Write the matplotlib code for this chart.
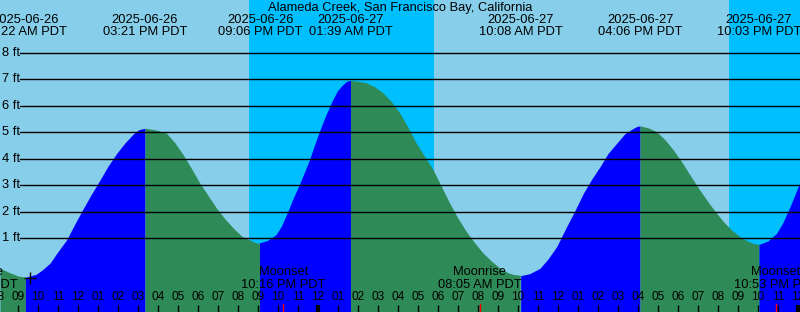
import numpy as np
import matplotlib
matplotlib.use("Agg")
import matplotlib.pyplot as plt
import matplotlib.transforms as mtransforms

plt.rcParams['font.family'] = ['Liberation Sans', 'DejaVu Sans']

# hours counted from 2025-06-26 00:00 PDT
title = "Alameda Creek, San Francisco Bay, California"

# tide height (ft)
curve_hours = [8.1, 8.6, 9.0,
               9.9, 10.2, 10.6, 11.0, 11.43, 11.85, 12.27, 12.7, 13.1, 13.5, 13.93,
               14.35, 14.77, 15.05,
               15.7, 16.0, 16.43, 16.85, 17.27, 17.7, 18.1, 18.5, 18.93, 19.35, 19.77,
               20.2, 20.6, 20.85,
               21.5, 21.93, 22.2, 22.52, 22.8, 23.1, 23.35, 23.6, 23.85, 24.1, 24.4,
               24.77, 25.0, 25.27, 25.45,
               26.0, 26.43, 26.85, 27.27, 27.7, 28.1, 28.5, 28.93, 29.35, 29.77, 30.2,
               30.6, 31.0, 31.43, 31.85, 32.27, 32.7, 33.1, 33.55, 33.85,
               34.6, 35.1, 35.5, 35.93, 36.43, 36.85, 37.27, 37.7, 38.1, 38.5, 38.93,
               39.35, 39.77, 39.95,
               40.5, 40.93, 41.35, 41.77, 42.2, 42.6, 43.0, 43.43, 43.85, 44.27, 44.7,
               45.1, 45.55, 45.8,
               46.5, 46.93, 47.25, 47.6, 47.85, 48.1]
curve_ft = [-0.13, -0.3, -0.42,
            -0.36, -0.2, 0.06, 0.5, 0.94, 1.55, 2.13, 2.7, 3.2, 3.72, 4.2,
            4.6, 4.94, 5.1,
            5.11, 5.07, 4.96, 4.6, 4.14, 3.6, 3.07, 2.62, 2.13, 1.73, 1.38,
            1.07, 0.94, 0.84,
            0.9, 1.12, 1.45, 2.0, 2.52, 3.02, 3.48, 3.95, 4.5, 5.02, 5.6,
            6.22, 6.55, 6.78, 6.9,
            6.91, 6.85, 6.7, 6.47, 6.13, 5.72, 5.2, 4.58, 4.08, 3.58, 2.93,
            2.32, 1.77, 1.25, 0.82, 0.43, 0.12, -0.13, -0.33, -0.39,
            -0.33, -0.13, 0.22, 0.68, 1.44, 2.05, 2.7, 3.25, 3.7, 4.2, 4.58,
            4.95, 5.15, 5.22,
            5.17, 5.02, 4.72, 4.33, 3.87, 3.39, 2.92, 2.45, 2.02, 1.63, 1.3,
            1.06, 0.87, 0.8,
            0.9, 1.19, 1.6, 2.19, 2.65, 3.13]

# high / low tides
extreme_hours = [9.367, 15.35, 21.1, 25.65, 34.133, 40.1, 46.05]
extreme_ft = [-0.47, 5.15, 0.81, 6.94, -0.41, 5.24, 0.77]
extreme_dates = ["2025-06-26", "2025-06-26", "2025-06-26", "2025-06-27",
                 "2025-06-27", "2025-06-27", "2025-06-27"]
extreme_times = ["09:22 AM PDT", "03:21 PM PDT", "09:06 PM PDT", "01:39 AM PDT",
                 "10:08 AM PDT", "04:06 PM PDT", "10:03 PM PDT"]

# night (sunset -> sunrise)
night_start = [20.55, 44.55]
night_end = [29.8, 49.0]

# moon events
moon_hours = [6.9, 22.27, 32.083, 46.883]
moon_names = ["Moonrise", "Moonset", "Moonrise", "Moonset"]
moon_times = ["06:54 AM PDT", "10:16 PM PDT", "08:05 AM PDT", "10:53 PM PDT"]

now_hour, now_ft = 9.6, -0.49

day_color = "#87CEEB"
night_color = "#00BFFF"
flood_color = "#0000FF"
ebb_color = "#2E8B57"
fs = 9.3

fig = plt.figure(figsize=(8, 3.12), dpi=100)
ax = fig.add_axes([0, 0, 1, 1])
ax.set_xlim(8.1, 48.1)
ax.set_ylim(-1.78, 9.99)
ax.axis("off")
ax.add_patch(plt.Rectangle((0, 0), 1, 1, transform=ax.transAxes,
                           color=day_color, zorder=0))
for s, e in zip(night_start, night_end):
    ax.axvspan(s, e, color=night_color, lw=0, zorder=0.5)

# merge curve and extremes
t = np.array(curve_hours + extreme_hours)
h = np.array(curve_ft + extreme_ft)
order = np.argsort(t)
t, h = t[order], h[order]

bounds = [t[0]] + extreme_hours + [t[-1]]
for i in range(len(bounds) - 1):
    a, b = bounds[i], bounds[i + 1]
    m = (t >= a) & (t <= b)
    seg_t, seg_h = t[m], h[m]
    rising = seg_h[-1] > seg_h[0]
    ax.fill_between(seg_t, seg_h, -5, color=flood_color if rising else ebb_color,
                    lw=0, zorder=1)

# grid lines
for ft in range(1, 9):
    ax.axhline(ft, xmin=20 / 800, xmax=1, color="black", lw=1, zorder=2)
    ax.text(8.2, ft, f"{ft} ft", fontsize=fs, va="center", ha="left", zorder=3)

tr = mtransforms.blended_transform_factory(ax.transData, ax.transAxes)

ax.text(0.5, 1 - 7.5 / 312, title, transform=ax.transAxes, ha="center",
        va="center", fontsize=fs)
for x, d, tm in zip(extreme_hours, extreme_dates, extreme_times):
    ax.text(x, 1 - 20 / 312, d, transform=tr, ha="center", va="center", fontsize=fs)
    ax.text(x, 1 - 32 / 312, tm, transform=tr, ha="center", va="center", fontsize=fs)

# hour ticks
for hr in range(8, 49):
    lab = (hr % 12) or 12
    lw = 3 if hr % 24 == 0 else 1
    ax.plot([hr, hr], [0, 7 / 312], transform=tr, color="black", lw=lw,
            solid_capstyle="butt", zorder=3)
    ax.text(hr, 1 - 297.3 / 312, f"{lab:02d}", transform=tr, ha="center",
            va="center", fontsize=8.5, zorder=3)

for x, n, tm in zip(moon_hours, moon_names, moon_times):
    ax.plot([x, x], [0, 8 / 312], transform=tr, color="red", lw=1, zorder=4)
    ax.text(x, 1 - 272 / 312, n, transform=tr, ha="center", va="center",
            fontsize=fs, zorder=3)
    ax.text(x, 1 - 285 / 312, tm, transform=tr, ha="center", va="center",
            fontsize=fs, zorder=3)

ax.plot([now_hour], [now_ft], marker="+", color="black", ms=9, mew=1, zorder=4)

fig.savefig("out.png", dpi=100)
